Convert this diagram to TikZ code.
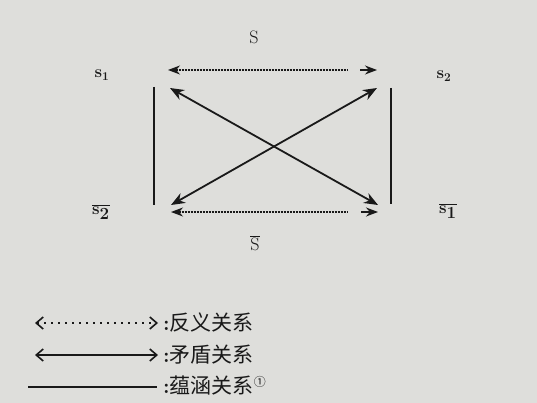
\documentclass[tikz,border=0pt]{standalone}
\usepackage{fontspec}
\newfontfamily\cjk{Noto Sans CJK SC}
\usetikzlibrary{arrows.meta}
\definecolor{paper}{RGB}{222,222,219}
\definecolor{ink}{RGB}{25,25,25}
\tikzset{
  big/.style={line width=1.8pt, draw=ink, {Stealth[length=14pt,width=11pt]}-{Stealth[length=14pt,width=11pt]}},
  dotline/.style={line width=1.2pt, draw=ink, dash pattern=on 0.9pt off 0.6pt},
  tipline/.style={line width=1.5pt, draw=ink},
  imp/.style={line width=1.1pt, draw=ink},
  lab/.style={inner sep=0pt, text=ink, font=\fontsize{18}{18}\selectfont},
  slab/.style={inner sep=0pt, text=ink, font=\bfseries\fontsize{17}{17}\selectfont},
  leg/.style={line width=1.4pt, draw=ink, {Straight Barb[length=7pt,width=12pt,line width=1.6pt]}-{Straight Barb[length=7pt,width=12pt,line width=1.6pt]}},
  legdot/.style={leg, dash pattern=on 2pt off 5pt, line width=1.8pt},
  legtxt/.style={inner sep=0pt, anchor=west, text=ink, font=\cjk\fontsize{21}{21}\selectfont}
}
\begin{document}
\begin{tikzpicture}[x=1pt,y=-1pt]
\fill[paper] (0,0) rectangle (537,403);
\useasboundingbox (0,0) rectangle (537,403);
% corner points
\coordinate (tl) at (168,70);
\coordinate (tg1) at (347,70);
\coordinate (tg2) at (360,70);
\coordinate (tr) at (377,70);
\coordinate (dtl) at (170,88);
\coordinate (dtr) at (377,88);
\coordinate (dbl) at (171,205);
\coordinate (dbr) at (378,205);
\coordinate (bl) at (171,212);
\coordinate (bg1) at (347,212);
\coordinate (bg2) at (361,212);
\coordinate (br) at (378,212);
\coordinate (vl1) at (154,87);
\coordinate (vl2) at (154,205);
\coordinate (vr1) at (391,88);
\coordinate (vr2) at (391,204);
% labels
\node[lab] (S) at (254,37) {S};
\node[lab] (Sbar) at (255,243) {$\overline{\mathrm{S}}$};
\node[slab] (s1) at (102,75) {s\textsubscript{1}};
\node[slab] (s2) at (444,76) {s\textsubscript{2}};
\node[slab] (s2b) at (101,212) {$\overline{\textbf{s}_{\textbf{2}}}$};
\node[slab] (s1b) at (448,211) {$\overline{\textbf{s}_{\textbf{1}}}$};
% contrary (dotted) connectors
\draw[dotline, {Stealth[length=12pt,width=9pt]}-] (tl) -- (tg1);
\draw[tipline, -{Stealth[length=12pt,width=9pt]}] (tg2) -- (tr);
\draw[dotline, {Stealth[length=12pt,width=9pt]}-] (bl) -- (bg1);
\draw[tipline, -{Stealth[length=12pt,width=9pt]}] (bg2) -- (br);
% contradictory
\draw[big] (dtl) -- (dbr);
\draw[big] (dtr) -- (dbl);
% implication
\draw[imp] (vl1) -- (vl2);
\draw[imp] (vr1) -- (vr2);
% legend
\coordinate (l1a) at (35,323);
\coordinate (l1b) at (158,323);
\coordinate (l2a) at (35,355);
\coordinate (l2b) at (158,355);
\coordinate (l3a) at (28,387);
\coordinate (l3b) at (157,387);
\draw[legdot] (l1a) -- (l1b);
\draw[leg] (l2a) -- (l2b);
\draw[imp, line width=1.4pt] (l3a) -- (l3b);
\node[legtxt] (t1) at (163,323) {{\rmfamily\bfseries :}反义关系};
\node[legtxt] (t2) at (163,355) {{\rmfamily\bfseries :}矛盾关系};
\node[legtxt] (t3) at (163,386) {{\rmfamily\bfseries :}蕴涵关系\raisebox{7pt}{\fontsize{12}{12}\selectfont ①}};
\end{tikzpicture}
\end{document}
